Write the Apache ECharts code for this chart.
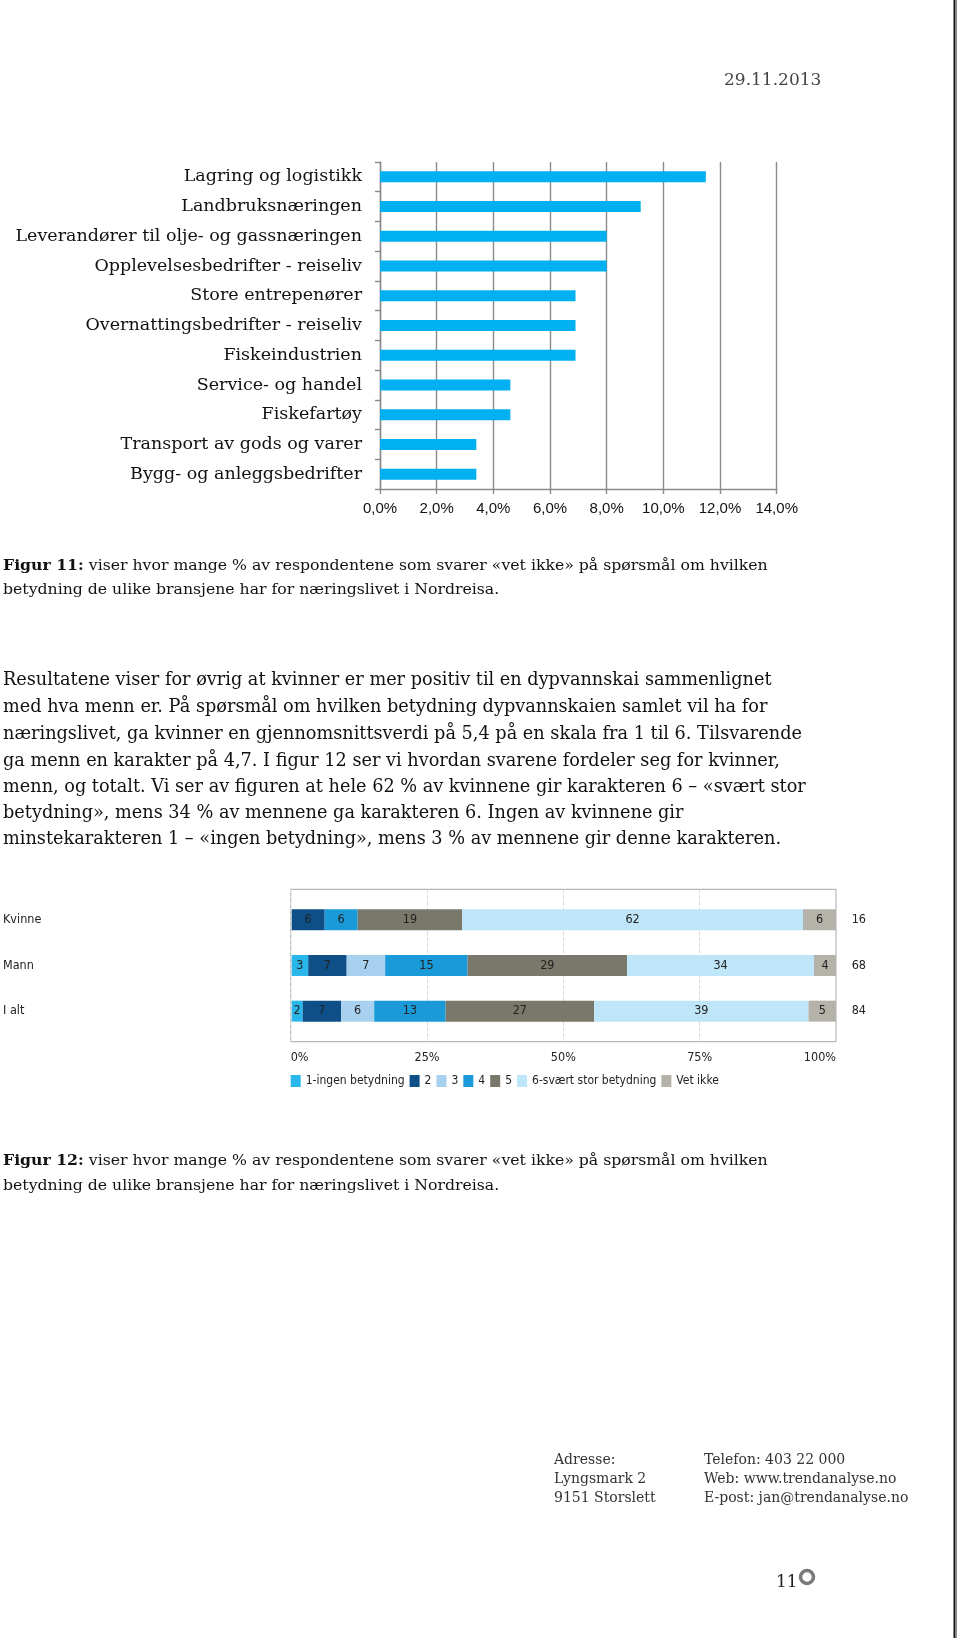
<!DOCTYPE html>
<html>
<head>
<meta charset="utf-8">
<script src="https://cdn.jsdelivr.net/npm/echarts@6/dist/echarts.min.js"></script>
<style>
  html, body { margin: 0; padding: 0; background: #ffffff; }
  #page { width: 960px; height: 1638px; }
</style>
</head>
<body>
<div id="page"></div>
<script>
// ---------- Figure 11 data ----------
const industries = [
  "Lagring og logistikk",
  "Landbruksnæringen",
  "Leverandører til olje- og gassnæringen",
  "Opplevelsesbedrifter - reiseliv",
  "Store entrepenører",
  "Overnattingsbedrifter - reiseliv",
  "Fiskeindustrien",
  "Service- og handel",
  "Fiskefartøy",
  "Transport av gods og varer",
  "Bygg- og anleggsbedrifter"
];
const vetIkkeShare = [11.5, 9.2, 8.0, 8.0, 6.9, 6.9, 6.9, 4.6, 4.6, 3.4, 3.4];
const fig11Ticks = [0, 2, 4, 6, 8, 10, 12, 14];

// ---------- Figure 12 data ----------
const groups = ["Kvinne", "Mann", "I alt"];
const nValues = ["16", "68", "84"];
const answerNames = ["1-ingen betydning", "2", "3", "4", "5", "6-svært stor betydning", "Vet ikke"];
const answer1 = [0, 3, 2];
const answer2 = [6, 7, 7];
const answer3 = [0, 7, 6];
const answer4 = [6, 15, 13];
const answer5 = [19, 29, 27];
const answer6 = [62, 34, 39];
const answerVetIkke = [6, 4, 5];
const fig12Ticks = [0, 25, 50, 75, 100];

// ---------- Page text ----------
const dateText = "29.11.2013";
const caption11 = [
  "{b|Figur 11:} viser hvor mange % av respondentene som svarer «vet ikke» på spørsmål om hvilken",
  "betydning de ulike bransjene har for næringslivet i Nordreisa."
];
const paragraph = [
  "Resultatene viser for øvrig at kvinner er mer positiv til en dypvannskai sammenlignet",
  "med hva menn er. På spørsmål om hvilken betydning dypvannskaien samlet vil ha for",
  "næringslivet, ga kvinner en gjennomsnittsverdi på 5,4 på en skala fra 1 til 6. Tilsvarende",
  "ga menn en karakter på 4,7. I figur 12 ser vi hvordan svarene fordeler seg for kvinner,",
  "menn, og totalt. Vi ser av figuren at hele 62 % av kvinnene gir karakteren 6 – «svært stor",
  "betydning», mens 34 % av mennene ga karakteren 6. Ingen av kvinnene gir",
  "minstekarakteren 1 – «ingen betydning», mens 3 % av mennene gir denne karakteren."
];
const caption12 = [
  "{b|Figur 12:} viser hvor mange % av respondentene som svarer «vet ikke» på spørsmål om hvilken",
  "betydning de ulike bransjene har for næringslivet i Nordreisa."
];
const footerLeft = ["Adresse:", "Lyngsmark 2", "9151 Storslett"];
const footerRight = ["Telefon: 403 22 000", "Web: www.trendanalyse.no", "E-post: jan@trendanalyse.no"];
const pageNumber = "11";

// ---------- Styling ----------
const SERIF = "'DejaVu Serif', serif";
const SANS12 = "'DejaVu Sans Condensed', 'DejaVu Sans', sans-serif";
const answerColors = ["#29B6EA", "#0D4F86", "#A8D1F0", "#1B9ADA", "#7A786B", "#BEE5F8", "#B4B2A9"];
const answerData = [answer1, answer2, answer3, answer4, answer5, answer6, answerVetIkke];
const gridGray = "#8a8a8a";

function txt(x, y, text, size, extra) {
  return {
    type: "text", x: x, y: y, silent: true,
    style: Object.assign({
      text: text, fontFamily: SERIF, fontSize: size, fill: "#111",
      verticalAlign: "middle", align: "left"
    }, extra || {})
  };
}

const graphics = [];
// right page border
graphics.push({ type: "line", silent: true, shape: { x1: 954.5, y1: 0, x2: 954.5, y2: 1638 }, style: { stroke: "#111", lineWidth: 2 } });
graphics.push({ type: "line", silent: true, shape: { x1: 956.5, y1: 0, x2: 956.5, y2: 1638 }, style: { stroke: "#8a8a8a", lineWidth: 1 } });
// date
graphics.push(txt(724, 81, dateText, 17, { fill: "#444" }));
// captions & paragraph
const CAP = 15.7;
const boldRich = { b: { fontWeight: "bold", fontFamily: SERIF, fontSize: CAP, fill: "#111" } };
[566, 590].forEach((y, i) => graphics.push(txt(3, y, caption11[i], CAP, { rich: boldRich })));
const paraY = [680.5, 707, 734, 761, 787, 813, 839.5];
paragraph.forEach((line, i) => graphics.push(txt(3, paraY[i], line, 17.7)));
[1161, 1186].forEach((y, i) => graphics.push(txt(3, y, caption12[i], CAP, { rich: boldRich })));
// footer
const footY = [1460, 1479, 1498];
footerLeft.forEach((t, i) => graphics.push(txt(554, footY[i], t, 14, { fill: "#333" })));
footerRight.forEach((t, i) => graphics.push(txt(704, footY[i], t, 14, { fill: "#333" })));
// page number and ring
graphics.push(txt(776, 1583, pageNumber, 17, { fill: "#222" }));
graphics.push({ type: "circle", silent: true, shape: { cx: 807, cy: 1577, r: 6.5 }, style: { fill: "none", stroke: "#7a7a7a", lineWidth: 3.5 } });

const chart = echarts.init(document.getElementById("page"), null, { renderer: "canvas", width: 960, height: 1638 });

const series = [{
  type: "bar",
  xAxisIndex: 0, yAxisIndex: 0,
  data: vetIkkeShare,
  barWidth: 11,
  itemStyle: { color: "#00B0F0" },
  silent: true
}];
answerNames.forEach((name, i) => {
  series.push({
    type: "bar",
    name: name,
    stack: "svar",
    xAxisIndex: 2, yAxisIndex: 2,
    data: answerData[i],
    barWidth: 21,
    itemStyle: { color: answerColors[i] },
    label: {
      show: true, position: "inside",
      formatter: p => (p.value ? String(p.value) : ""),
      color: "#222", fontFamily: SANS12, fontSize: 12.5
    },
    silent: true
  });
});

chart.setOption({
  animation: false,
  backgroundColor: "#ffffff",
  grid: [
    { left: 380, top: 162, width: 396.7, height: 327 },
    { left: 290.7, top: 889.3, width: 545.3, height: 152.4, show: true, borderColor: "#a6a6a6", borderWidth: 1, backgroundColor: "transparent" },
    { left: 290.7, top: 896.9, width: 545.3, height: 137.1 }
  ],
  xAxis: [
    {
      gridIndex: 0, type: "value",
      min: fig11Ticks[0], max: fig11Ticks[fig11Ticks.length - 1], interval: fig11Ticks[1] - fig11Ticks[0],
      axisLine: { show: true, lineStyle: { color: gridGray, width: 1.4 } },
      axisTick: { show: true, length: 5, lineStyle: { color: gridGray, width: 1.4 } },
      splitLine: { show: true, lineStyle: { color: gridGray, width: 1.4 } },
      axisLabel: {
        formatter: v => v.toFixed(1).replace(".", ",") + "%",
        color: "#111", fontFamily: "'Liberation Sans', Arial, sans-serif", fontSize: 15, margin: 12
      }
    },
    {
      gridIndex: 1, type: "value",
      min: fig12Ticks[0], max: fig12Ticks[fig12Ticks.length - 1], interval: fig12Ticks[1] - fig12Ticks[0],
      axisLine: { show: false }, axisTick: { show: false },
      splitLine: { show: true, lineStyle: { color: "#d8d8d8", type: "dashed", width: 1 } },
      axisLabel: {
        formatter: "{value}%", margin: 10, alignMinLabel: "left", alignMaxLabel: "right",
        color: "#222", fontFamily: SANS12, fontSize: 12.5
      }
    },
    { gridIndex: 2, type: "value", min: 0, max: 99, show: false }
  ],
  yAxis: [
    {
      gridIndex: 0, type: "category", data: industries, inverse: true,
      axisLine: { show: true, lineStyle: { color: gridGray, width: 1.4 } },
      axisTick: { show: true, length: 5, lineStyle: { color: gridGray, width: 1.4 } },
      axisLabel: { margin: 18, color: "#111", fontFamily: SERIF, fontSize: 17.5 }
    },
    { gridIndex: 1, type: "value", show: false, min: 0, max: 1 },
    {
      gridIndex: 2, type: "category", data: groups, inverse: true,
      axisLine: { show: false }, axisTick: { show: false },
      axisLabel: { align: "left", margin: 288.7, color: "#222", fontFamily: SANS12, fontSize: 12.5 }
    },
    {
      gridIndex: 2, type: "category", data: nValues, inverse: true, position: "right",
      axisLine: { show: false }, axisTick: { show: false },
      axisLabel: { margin: 15.7, color: "#222", fontFamily: SANS12, fontSize: 12.5 }
    }
  ],
  legend: {
    data: answerNames,
    left: 290.7, top: 1075, padding: 0,
    itemWidth: 10, itemHeight: 12, itemGap: 5,
    icon: "rect",
    selectedMode: false,
    textStyle: { color: "#222", fontFamily: SANS12, fontSize: 12 }
  },
  series: series,
  graphic: { elements: graphics }
});
</script>
</body>
</html>
